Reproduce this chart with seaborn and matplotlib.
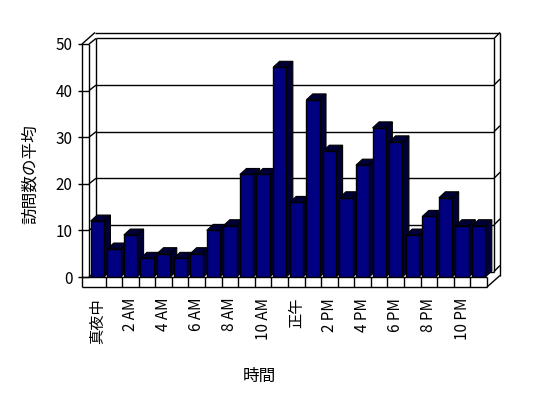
import matplotlib
matplotlib.use('Agg')
import matplotlib.pyplot as plt
import pandas as pd
import seaborn as sns
from matplotlib.patches import Polygon

# Data
hours = ['真夜中', '1 AM', '2 AM', '3 AM', '4 AM', '5 AM', '6 AM', '7 AM',
         '8 AM', '9 AM', '10 AM', '11 AM', '正午', '1 PM', '2 PM', '3 PM',
         '4 PM', '5 PM', '6 PM', '7 PM', '8 PM', '9 PM', '10 PM', '11 PM']
visits = [12, 6, 9, 4, 5, 4, 5, 10, 11, 22, 22, 45,
          16, 38, 27, 17, 24, 32, 29, 9, 13, 17, 11, 11]
y_ticks = [0, 10, 20, 30, 40, 50]

sns.set_style('white')
plt.rcParams['font.family'] = ['Noto Sans CJK JP', 'DejaVu Sans']

df = pd.DataFrame({'hour': hours, 'visits': visits})

fig = plt.figure(figsize=(5.48, 3.98), dpi=100)
ax = fig.add_axes([89 / 548, 121 / 398, 398 / 548, 233 / 398])

sns.barplot(data=df, x='hour', y='visits', color='#000080', saturation=1,
            width=0.8, edgecolor='black', linewidth=1, ax=ax)
for p in ax.patches:
    p.set_zorder(3)

ax.set_xlim(-0.5, 23.5)
ax.set_ylim(0, 50)

# pixel -> data unit conversion
p0 = ax.transData.transform((0, 0))
p1 = ax.transData.transform((1, 1))
ux, uy = p1[0] - p0[0], p1[1] - p0[1]

bdx, bdy = 6.5 / ux, 6 / uy          # bar depth
d1x, d1y = 7 / ux, 5.5 / uy          # inner back wall
d2x, d2y = 13 / ux, 11.5 / uy        # outer box
xl = -0.5 - 7 / ux                   # front face of left wall
yf = -10 / uy                        # bottom of floor strip
xr = 23.5

# 3D sides and tops of the bars
for p in list(ax.patches):
    x0, w, h = p.get_x(), p.get_width(), p.get_height()
    x1 = x0 + w
    side = Polygon([(x1, 0), (x1, h), (x1 + bdx, h + bdy), (x1 + bdx, bdy)],
                   fc='#000036', ec='black', lw=0.8, zorder=2, clip_on=False)
    top = Polygon([(x0, h), (x1, h), (x1 + bdx, h + bdy), (x0 + bdx, h + bdy)],
                  fc='#000036', ec='black', lw=0.8, zorder=2, clip_on=False)
    ax.add_patch(side)
    ax.add_patch(top)


def seg(xs, ys, z=1):
    ax.plot(xs, ys, color='black', lw=1, zorder=z, clip_on=False,
            solid_capstyle='butt')


# back wall and gridlines
for v in y_ticks:
    seg([-0.5 + d1x, xr + d1x], [v + d1y, v + d1y], 0.5)
    seg([-0.5, -0.5 + d1x], [v, v + d1y], 0.5)
    seg([xl, -0.5], [v, v], 0.5)
    seg([xr + d1x, xr + d2x], [v + d1y, v + d2y], 0.5)
seg([-0.5 + d1x, -0.5 + d1x], [d1y, 50 + d1y], 0.5)
seg([xr + d1x, xr + d1x], [d1y, 50 + d1y], 0.5)
seg([-0.5, -0.5], [0, 50], 0.5)

# outer box
seg([xl, xl], [yf, 50], 4)
seg([xl, xl + d2x], [50, 50 + d2y])
seg([xl + d2x, xr + d2x], [50 + d2y, 50 + d2y])
seg([xr + d2x, xr + d2x], [yf + d2y, 50 + d2y])
seg([xr, xr + d2x], [yf, yf + d2y], 4)

# floor strip
seg([xl, xr], [yf, yf], 4)
seg([xl, xr], [0, 0], 4)
for k in range(1, 25):
    seg([k - 0.5, k - 0.5], [yf, 0], 4)

for s in ax.spines.values():
    s.set_visible(False)

ax.set_yticks(y_ticks)
ax.tick_params(axis='y', left=True, length=3, width=1, pad=4,
               labelsize=11, colors='black')
ax.spines['left'].set_position(('outward', 7 * 0.72))

ax.set_xticks(range(0, 24, 2))
ax.set_xticklabels(hours[::2], rotation=90)
ax.tick_params(axis='x', bottom=False, length=0, pad=15, labelsize=11,
               labelcolor='black')

ax.set_xlabel('時間', fontsize=12, color='black')
ax.set_ylabel('訪問数の平均', fontsize=12, color='black')
ax.xaxis.set_label_coords(0.427, -0.39)
ax.yaxis.set_label_coords(-0.125, 0.44)

fig.savefig('out.png', dpi=100)
